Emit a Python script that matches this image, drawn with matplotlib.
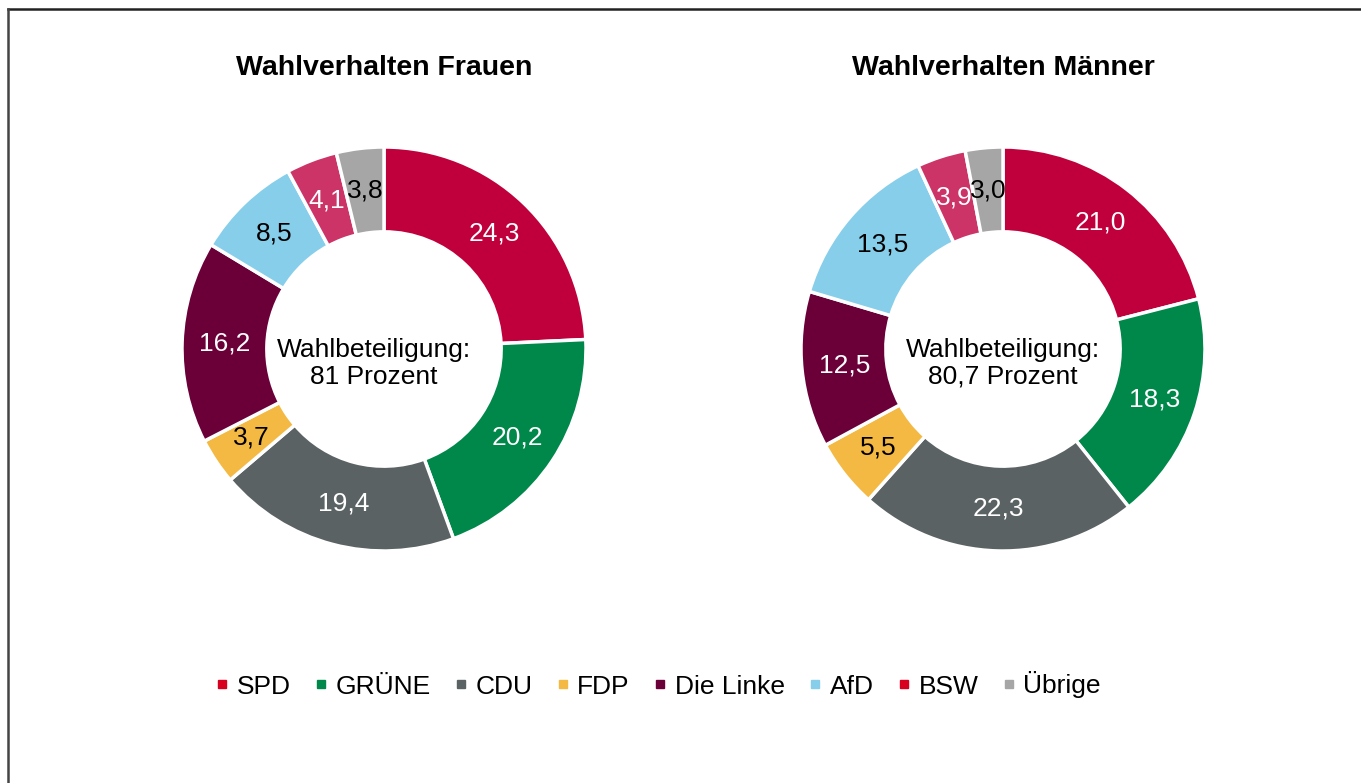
import matplotlib
matplotlib.use("Agg")
import matplotlib.pyplot as plt
from matplotlib.lines import Line2D

plt.rcParams["font.family"] = ["Liberation Sans", "DejaVu Sans"]

parties = ["SPD", "GRÜNE", "CDU", "FDP", "Die Linke", "AfD", "BSW", "Übrige"]
frauen = [24.3, 20.2, 19.4, 3.7, 16.2, 8.5, 4.1, 3.8]
maenner = [21.0, 18.3, 22.3, 5.5, 12.5, 13.5, 3.9, 3.0]
beteiligung = ["81", "80,7"]

pie_colors = ["#C0003C", "#00874A", "#5A6264", "#F4B942", "#6B0038", "#86CEEA", "#CC3366", "#A6A6A6"]
legend_colors = ["#D7001E", "#00874A", "#5A6264", "#F4B942", "#6B0038", "#86CEEA", "#D7001E", "#A6A6A6"]
text_colors = ["white", "white", "white", "black", "white", "black", "white", "black"]

W, H = 1361, 783
fig = plt.figure(figsize=(W / 100, H / 100), dpi=100)


def donut(cx, title, values, turnout, text_dx):
    r = 202
    ax = fig.add_axes([(cx - r) / W, (H - 349 - r) / H, 2 * r / W, 2 * r / H])
    labels = [f"{v:.1f}".replace(".", ",") for v in values]
    wedges, texts = ax.pie(values, colors=pie_colors, startangle=90, counterclock=False,
                           radius=1.0, labels=labels, labeldistance=0.79,
                           wedgeprops=dict(width=0.42, edgecolor="white", linewidth=2.5),
                           textprops=dict(fontsize=19))
    for t, c in zip(texts, text_colors):
        t.set_ha("center")
        t.set_va("center")
        t.set_color(c)
    ax.set_xlim(-1, 1)
    ax.set_ylim(-1, 1)
    ax.set_aspect("equal")
    ax.text(text_dx, -0.07, f"Wahlbeteiligung:\n{turnout} Prozent", ha="center", va="center",
            fontsize=19, linespacing=1.15)
    fig.text(cx / W, 1 - 68 / H, title, ha="center", va="center", fontsize=20.5, fontweight="bold")


donut(384, "Wahlverhalten Frauen", frauen, beteiligung[0], -0.05)
donut(1003, "Wahlverhalten Männer", maenner, beteiligung[1], 0.0)

handles = [Line2D([], [], marker="s", linestyle="none", markersize=6,
                  markerfacecolor=c, markeredgecolor=c) for c in legend_colors]
fig.legend(handles, parties, loc="center", bbox_to_anchor=(658 / W, 1 - 685 / H), ncol=8,
           frameon=False, fontsize=19, handlelength=0.5, handletextpad=0.3, columnspacing=0.9)

# outer frame (top and left edges only)
fig.add_artist(Line2D([8 / W, 1], [1 - 9 / H, 1 - 9 / H], transform=fig.transFigure,
                      color="#222222", lw=1.8))
fig.add_artist(Line2D([8 / W, 8 / W], [0, 1 - 9 / H], transform=fig.transFigure,
                      color="#444444", lw=1.8))

fig.savefig("out.png", dpi=100)
